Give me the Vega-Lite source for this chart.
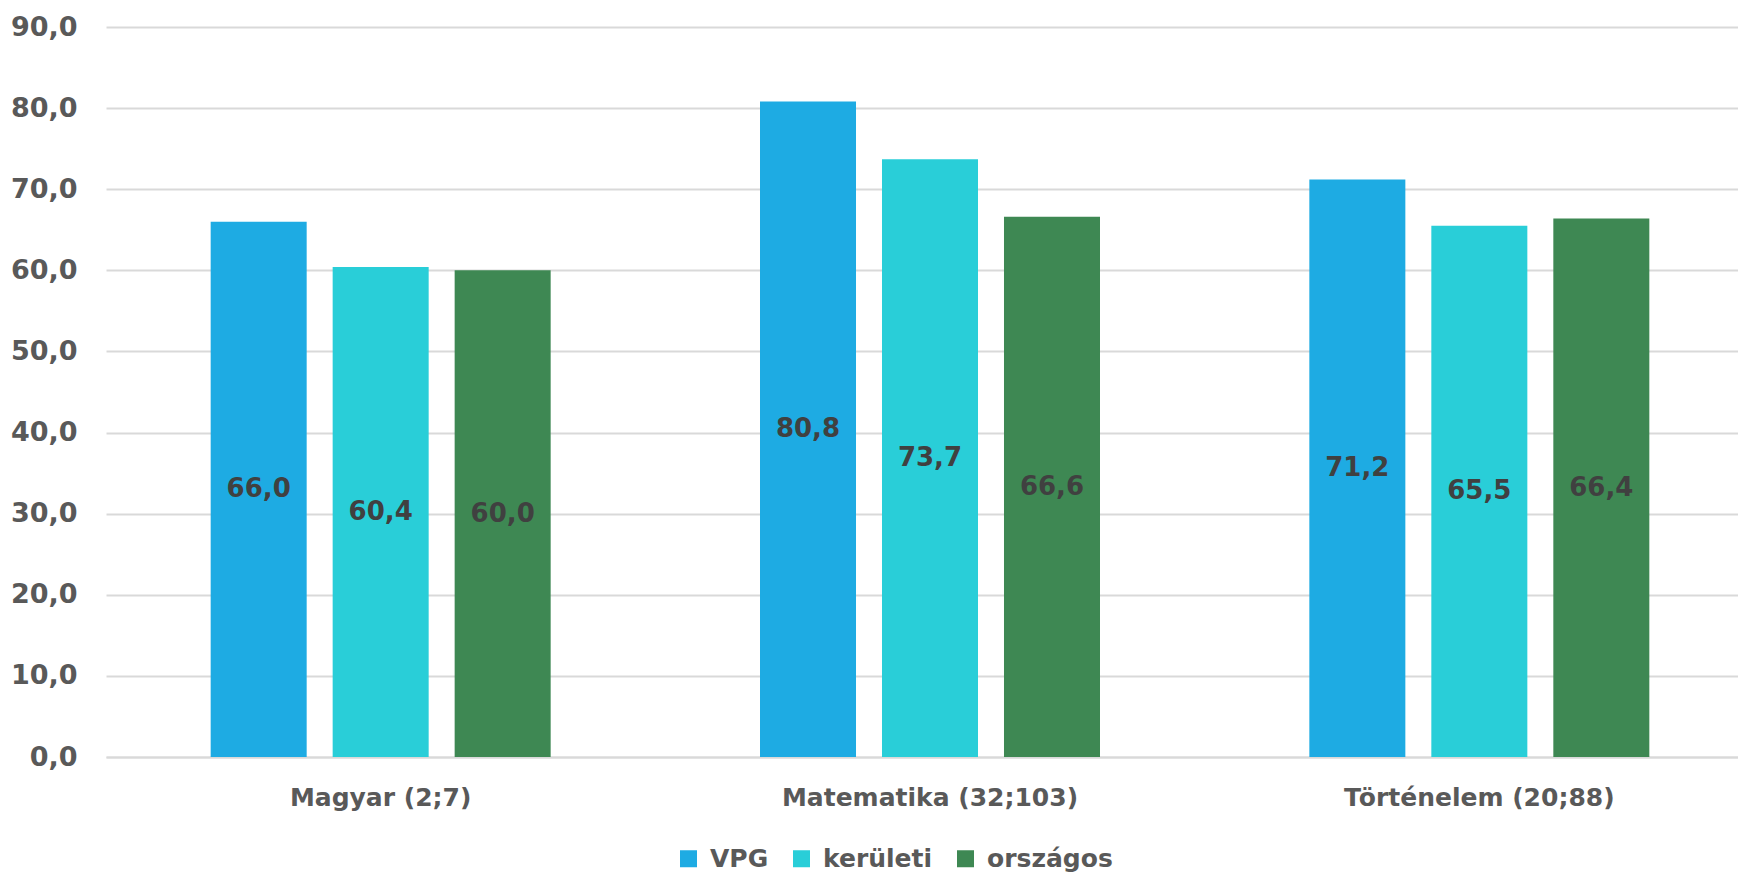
{
  "$schema": "https://vega.github.io/schema/vega-lite/v6.json",
  "width": 1632,
  "height": 730,
  "autosize": "none",
  "padding": {"left": 106, "top": 27, "right": 0, "bottom": 117},
  "config": {
    "locale": {"number": {"decimal": ",", "thousands": " ", "grouping": [3], "currency": ["", " Ft"]}},
    "view": {"stroke": null},
    "font": "DejaVu Sans"
  },
  "data": {
    "values": [
      {"tantargy": "Magyar (2;7)", "csoport": "VPG", "ertek": 66.0},
      {"tantargy": "Magyar (2;7)", "csoport": "kerületi", "ertek": 60.4},
      {"tantargy": "Magyar (2;7)", "csoport": "országos", "ertek": 60.0},
      {"tantargy": "Matematika (32;103)", "csoport": "VPG", "ertek": 80.8},
      {"tantargy": "Matematika (32;103)", "csoport": "kerületi", "ertek": 73.7},
      {"tantargy": "Matematika (32;103)", "csoport": "országos", "ertek": 66.6},
      {"tantargy": "Történelem (20;88)", "csoport": "VPG", "ertek": 71.2},
      {"tantargy": "Történelem (20;88)", "csoport": "kerületi", "ertek": 65.5},
      {"tantargy": "Történelem (20;88)", "csoport": "országos", "ertek": 66.4}
    ]
  },
  "encoding": {
    "x": {
      "field": "tantargy", "type": "nominal", "sort": null,
      "scale": {"range": [0, 1648], "paddingInner": 0, "paddingOuter": 0},
      "axis": {
        "title": null, "labelAngle": 0, "ticks": false, "domain": true,
        "domainColor": "#D9D9D9", "domainWidth": 2, "labelLimit": 0,
        "labelFont": "DejaVu Sans", "labelFontSize": 25, "labelFontWeight": "bold",
        "labelColor": "#595959", "labelPadding": 28
      }
    },
    "xOffset": {
      "field": "csoport", "type": "nominal", "sort": ["VPG", "kerületi", "országos"],
      "scale": {"paddingInner": 0.213, "paddingOuter": 0.858}
    }
  },
  "layer": [
    {
      "mark": {"type": "bar"},
      "encoding": {
        "y": {
          "field": "ertek", "type": "quantitative",
          "scale": {"domain": [0, 90]},
          "axis": {
            "title": null, "values": [0, 10, 20, 30, 40, 50, 60, 70, 80, 90],
            "format": ".1f", "ticks": false, "domain": false,
            "gridColor": "#D9D9D9", "gridWidth": 2,
            "labelFont": "DejaVu Sans", "labelFontSize": 27, "labelFontWeight": "bold",
            "labelColor": "#595959", "labelPadding": 29
          }
        },
        "color": {
          "field": "csoport", "type": "nominal",
          "sort": ["VPG", "kerületi", "országos"],
          "scale": {"domain": ["VPG", "kerületi", "országos"], "range": ["#1EABE3", "#29CED8", "#3E8853"]},
          "legend": {
            "title": null, "orient": "none", "legendX": 570, "legendY": 819,
            "direction": "horizontal", "symbolType": "square", "symbolSize": 289,
            "symbolStrokeWidth": 0, "labelFont": "DejaVu Sans", "labelFontSize": 25,
            "labelFontWeight": "bold", "labelColor": "#595959", "labelOffset": 9,
            "columnPadding": 20, "labelLimit": 0
          }
        }
      }
    },
    {
      "mark": {"type": "text", "font": "DejaVu Sans", "fontSize": 26, "fontWeight": "bold", "color": "#404040", "baseline": "middle"},
      "encoding": {
        "y": {"field": "ertek", "type": "quantitative", "scale": {"domain": [0, 180]}, "axis": null},
        "text": {"field": "ertek", "type": "quantitative", "format": ".1f"}
      }
    }
  ],
  "resolve": {"scale": {"y": "independent"}}
}
